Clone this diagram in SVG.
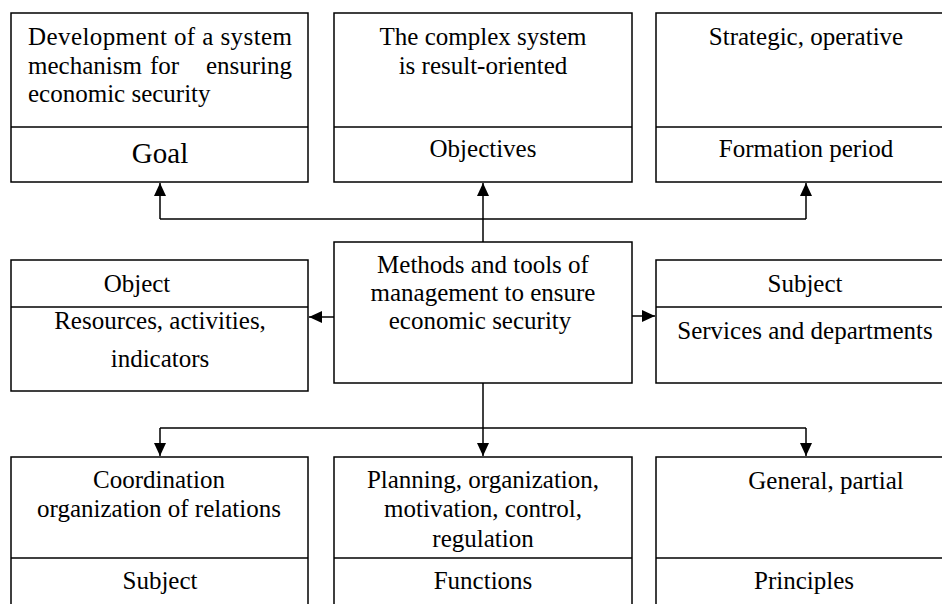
<svg xmlns="http://www.w3.org/2000/svg" width="942" height="604" viewBox="0 0 942 604">
<style>
  .box { fill: #ffffff; stroke: #000000; stroke-width: 1.5; }
  .div { stroke: #000000; stroke-width: 1.5; }
  .t { font-family: 'Liberation Serif', 'DejaVu Serif', serif; font-size: 25px; fill: #000000; }
  .c { text-anchor: middle; }
  .big { font-size: 29px; }
  .conn { fill: none; stroke: #000000; stroke-width: 1.5; }
</style>
<defs>
  <marker id="ah" markerWidth="14" markerHeight="12" refX="13" refY="6" orient="auto" markerUnits="userSpaceOnUse">
    <path d="M0,0 L13,6 L0,12 Z" fill="#000000"/>
  </marker>
</defs>
<rect width="942" height="604" fill="#ffffff"/>

<g id="goal" font-family="Liberation Serif, serif">
  <rect class="box" x="11" y="13" width="297" height="169"/>
  <line class="div" x1="11" y1="127" x2="308" y2="127"/>
  <text class="t" x="28" y="45" textLength="264" lengthAdjust="spacing">Development of a system</text>
  <text class="t" x="28" y="74">mechanism</text>
  <text class="t" x="150" y="74">for</text>
  <text class="t" x="292" y="74" text-anchor="end">ensuring</text>
  <text class="t" x="28" y="102">economic security</text>
  <text class="t c big" x="160" y="163">Goal</text>
</g>

<g id="objectives">
  <rect class="box" x="334" y="13" width="298" height="169"/>
  <line class="div" x1="334" y1="127" x2="632" y2="127"/>
  <text class="t c" x="483" y="45">The complex system</text>
  <text class="t c" x="483" y="74">is result-oriented</text>
  <text class="t c" x="483" y="157">Objectives</text>
</g>

<g id="formation">
  <rect class="box" x="656" y="13" width="300" height="169"/>
  <line class="div" x1="656" y1="127" x2="956" y2="127"/>
  <text class="t c" x="806" y="45">Strategic, operative</text>
  <text class="t c" x="806" y="157">Formation period</text>
</g>

<g id="object">
  <rect class="box" x="11" y="260" width="297" height="131"/>
  <line class="div" x1="11" y1="307" x2="308" y2="307"/>
  <text class="t c" x="137" y="292">Object</text>
  <text class="t c" x="160" y="329">Resources, activities,</text>
  <text class="t c" x="160" y="367">indicators</text>
</g>

<g id="center">
  <rect class="box" x="334" y="242" width="298" height="141"/>
  <text class="t c" x="483" y="273">Methods and tools of</text>
  <text class="t c" x="483" y="301">management to ensure</text>
  <text class="t c" x="480" y="329">economic security</text>
</g>

<g id="subject-right">
  <rect class="box" x="656" y="260" width="300" height="123"/>
  <line class="div" x1="656" y1="307" x2="956" y2="307"/>
  <text class="t c" x="805" y="292">Subject</text>
  <text class="t c" x="805" y="339">Services and departments</text>
</g>

<g id="subject-bottom">
  <rect class="box" x="11" y="457" width="297" height="170"/>
  <line class="div" x1="11" y1="558" x2="308" y2="558"/>
  <text class="t c" x="159" y="488">Coordination</text>
  <text class="t c" x="159" y="517">organization of relations</text>
  <text class="t c" x="160" y="589">Subject</text>
</g>

<g id="functions">
  <rect class="box" x="334" y="457" width="298" height="170"/>
  <line class="div" x1="334" y1="558" x2="632" y2="558"/>
  <text class="t c" x="483" y="488">Planning, organization,</text>
  <text class="t c" x="483" y="517">motivation, control,</text>
  <text class="t c" x="483" y="547">regulation</text>
  <text class="t c" x="483" y="589">Functions</text>
</g>

<g id="principles">
  <rect class="box" x="656" y="457" width="300" height="170"/>
  <line class="div" x1="656" y1="558" x2="956" y2="558"/>
  <text class="t c" x="826" y="489">General, partial</text>
  <text class="t c" x="804" y="589">Principles</text>
</g>

<g id="connectors">
  <line class="conn" x1="483" y1="242" x2="483" y2="183" marker-end="url(#ah)"/>
  <line class="conn" x1="160" y1="219" x2="806" y2="219"/>
  <line class="conn" x1="160" y1="219" x2="160" y2="183" marker-end="url(#ah)"/>
  <line class="conn" x1="806" y1="219" x2="806" y2="183" marker-end="url(#ah)"/>
  <line class="conn" x1="334" y1="317" x2="309" y2="317" marker-end="url(#ah)"/>
  <line class="conn" x1="632" y1="316" x2="655" y2="316" marker-end="url(#ah)"/>
  <line class="conn" x1="483" y1="383" x2="483" y2="456" marker-end="url(#ah)"/>
  <line class="conn" x1="160" y1="428" x2="806" y2="428"/>
  <line class="conn" x1="160" y1="428" x2="160" y2="456" marker-end="url(#ah)"/>
  <line class="conn" x1="806" y1="428" x2="806" y2="456" marker-end="url(#ah)"/>
</g>
</svg>
